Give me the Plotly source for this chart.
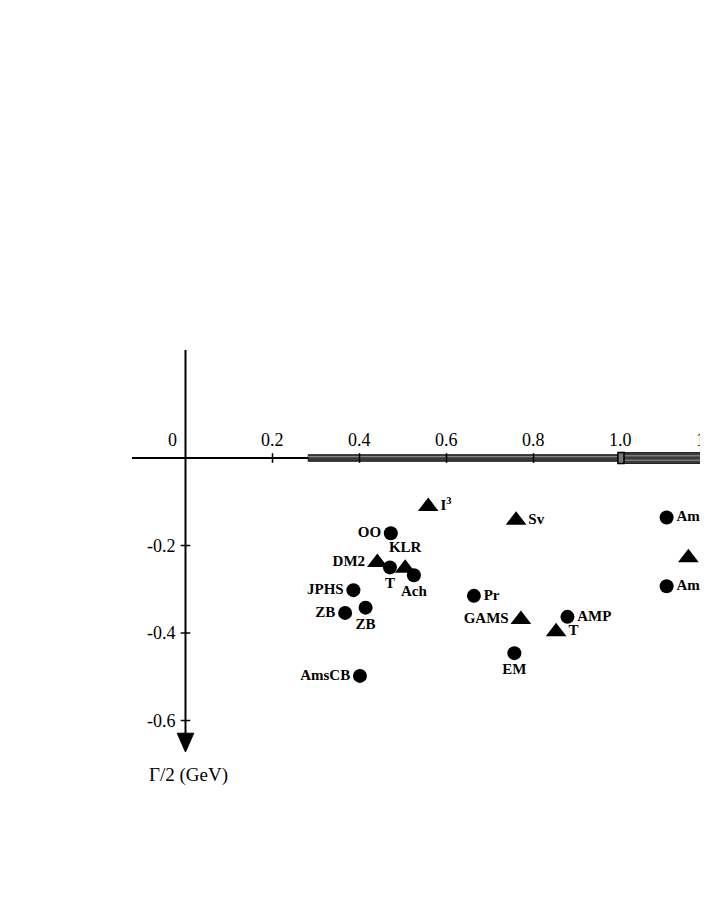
import plotly.graph_objects as go

# resonance pole positions: mass (GeV) vs -Gamma/2 (GeV)
circle_names = ["OO", "T", "Ach", "JPHS", "ZB", "ZB", "AmsCB", "Pr", "AMP", "EM", "AmsCB", "AmsCB"]
circle_mass = [0.472, 0.470, 0.525, 0.386, 0.367, 0.414, 0.401, 0.663, 0.878, 0.756, 1.106, 1.106]
circle_width = [-0.172, -0.250, -0.268, -0.302, -0.354, -0.342, -0.498, -0.315, -0.363, -0.446, -0.136, -0.293]
circle_pos = ["middle left", "bottom center", "bottom center", "middle left", "middle left", "bottom center",
              "middle left", "middle right", "middle right", "bottom center", "middle right", "middle right"]

tri_names = ["I<sup>3</sup>", "DM2", "KLR", "Sv", "GAMS", "T", "A"]
tri_mass = [0.558, 0.441, 0.505, 0.760, 0.771, 0.852, 1.156]
tri_width = [-0.111, -0.239, -0.252, -0.142, -0.369, -0.397, -0.228]
tri_pos = ["middle right", "middle left", "top center", "middle right", "middle left", "middle right", "middle right"]

x_ticks = [0.2, 0.4, 0.6, 0.8]
x_tick_labels = ["0.2", "0.4", "0.6", "0.8", "1.0", "1.2"]
x_tick_label_pos = [0.2, 0.4, 0.6, 0.8, 1.0, 1.2]
y_ticks = [-0.2, -0.4, -0.6]
y_tick_labels = ["-0.2", "-0.4", "-0.6"]

serif = "Liberation Serif, Times New Roman, serif"

fig = go.Figure()
fig.add_trace(go.Scatter(x=circle_mass, y=circle_width, mode="markers+text",
                         text=circle_names, textposition=circle_pos,
                         marker=dict(symbol="circle", size=14, color="black"),
                         textfont=dict(family=serif, size=15, color="black", weight="bold"),
                         cliponaxis=False, showlegend=False))
fig.add_trace(go.Scatter(x=tri_mass, y=tri_width, mode="markers+text",
                         text=tri_names, textposition=tri_pos,
                         marker=dict(symbol="triangle-up", size=18, color="black"),
                         textfont=dict(family=serif, size=15, color="black", weight="bold"),
                         cliponaxis=False, showlegend=False))

shapes = []
# x axis line
shapes.append(dict(type="line", x0=-0.123, x1=1.3, y0=0, y1=0, line=dict(color="black", width=2)))
# thick band 0.28 - 1.0
shapes.append(dict(type="rect", x0=0.282, x1=1.0, y0=-0.0075, y1=0.0075,
                   fillcolor="#3a3a3a", line=dict(color="#222", width=1)))
shapes.append(dict(type="line", x0=0.282, x1=1.0, y0=0.003, y1=0.003, line=dict(color="#9a9a9a", width=1)))
# thicker band beyond 1.0
shapes.append(dict(type="rect", x0=1.0, x1=1.3, y0=-0.0125, y1=0.0125,
                   fillcolor="#3a3a3a", line=dict(color="#222", width=1)))
shapes.append(dict(type="line", x0=1.0, x1=1.3, y0=0.005, y1=0.005, line=dict(color="#9a9a9a", width=1)))
shapes.append(dict(type="line", x0=1.0, x1=1.3, y0=-0.005, y1=-0.005, line=dict(color="#9a9a9a", width=1)))
shapes.append(dict(type="rect", x0=0.994, x1=1.008, y0=-0.0125, y1=0.0125,
                   fillcolor="#777", line=dict(color="black", width=1.5)))
# y axis line and arrow head
shapes.append(dict(type="line", x0=0, x1=0, y0=0.247, y1=-0.635, line=dict(color="black", width=2)))
shapes.append(dict(type="path", path="M -0.019,-0.629 L 0.019,-0.629 L 0,-0.672 Z",
                   fillcolor="black", line=dict(color="black", width=1)))
for t in x_ticks:
    shapes.append(dict(type="line", x0=t, x1=t, y0=-0.011, y1=0.011, line=dict(color="black", width=1.5)))
for t in y_ticks:
    shapes.append(dict(type="line", x0=-0.011, x1=0.011, y0=t, y1=t, line=dict(color="black", width=1.5)))

annotations = []
for lab, pos in zip(x_tick_labels, x_tick_label_pos):
    annotations.append(dict(x=pos, y=0.041, text=lab, showarrow=False, xanchor="center", yanchor="middle",
                            font=dict(family=serif, size=18, color="black")))
annotations.append(dict(x=-0.031, y=0.041, text="0", showarrow=False, xanchor="center", yanchor="middle",
                        font=dict(family=serif, size=18, color="black")))
for lab, t in zip(y_tick_labels, y_ticks):
    annotations.append(dict(x=-0.017, y=t, text=lab, showarrow=False, xanchor="right", yanchor="middle",
                            font=dict(family=serif, size=18, color="black")))
annotations.append(dict(x=0.006, y=-0.725, text="Γ/2 (GeV)", showarrow=False, xanchor="center", yanchor="middle",
                        font=dict(family=serif, size=19, color="black")))

# page body has an 8px margin: figure is 8px smaller and ranges put the origin where the reference has it
fig.update_layout(width=700, height=909, margin=dict(l=0, r=0, t=0, b=0),
                  paper_bgcolor="white", plot_bgcolor="white",
                  shapes=shapes, annotations=annotations)
fig.update_xaxes(range=[-0.408, 1.2011], visible=False)
fig.update_yaxes(range=[-1.0491, 1.0286], visible=False)

fig.write_html("out.html")
